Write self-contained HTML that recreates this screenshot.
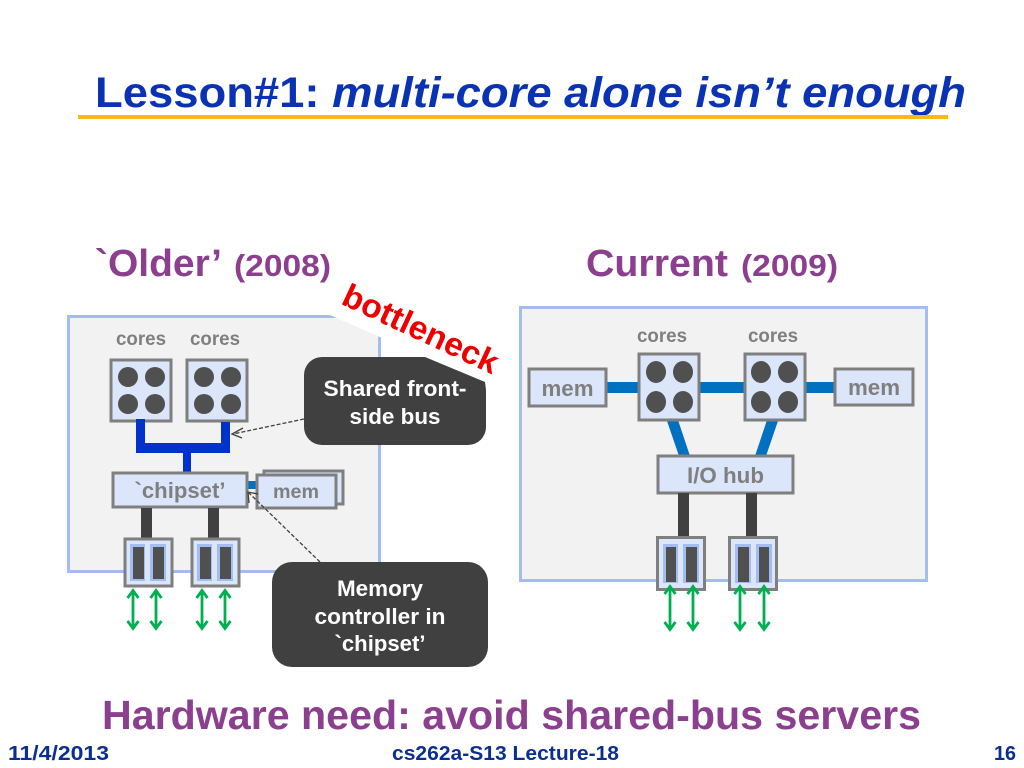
<!DOCTYPE html>
<html><head><meta charset="utf-8"><style>
html,body{margin:0;padding:0;background:#fff;width:1024px;height:768px;overflow:hidden}
svg{display:block}
text{font-family:"Liberation Sans",sans-serif;font-weight:bold}
.box{fill:#dce6fb;stroke:#7f7f7f;stroke-width:3}
.lbl{fill:#7f7f7f}
.c{fill:#505050}
.dk{fill:#404040}
.in{fill:#a4bdf0}
.g{stroke:#00b050;stroke-width:2.800;fill:none}
</style></head><body>
<svg width="1024" height="768" viewBox="0 0 1024 768" xmlns="http://www.w3.org/2000/svg">
<defs>
<g id="ar" class="g"><path d="M0 2V39M-5.500 9L0 1.500L5.500 9M-5.500 32L0 39.500L5.500 32"/></g>
<g id="ar2" class="g"><path d="M0 2V44M-5.500 9L0 1.500L5.500 9M-5.500 37L0 44.500L5.500 37"/></g>
</defs>
<text x="95" y="107" font-size="43" fill="#0a32b4" textLength="871" lengthAdjust="spacingAndGlyphs">Lesson#1: <tspan font-style="italic">multi-core alone isn’t enough</tspan></text>
<rect x="78" y="115" width="870" height="4" fill="#fbb917"/>
<g fill="#8c3f8f">
<text x="95" y="276" font-size="38" textLength="127" lengthAdjust="spacingAndGlyphs">`Older’</text>
<text x="234" y="276" font-size="31" textLength="97" lengthAdjust="spacingAndGlyphs">(2008)</text>
<text x="586" y="276" font-size="38" textLength="142" lengthAdjust="spacingAndGlyphs">Current</text>
<text x="741" y="276" font-size="31" textLength="97" lengthAdjust="spacingAndGlyphs">(2009)</text>
</g>

<!-- left panel -->
<rect x="68.500" y="316.500" width="311" height="255" fill="#f2f2f2" stroke="#a4bdf0" stroke-width="3"/>
<text x="116" y="345" font-size="19" class="lbl" textLength="50" lengthAdjust="spacingAndGlyphs">cores</text>
<text x="190" y="345" font-size="19" class="lbl" textLength="50" lengthAdjust="spacingAndGlyphs">cores</text>
<rect class="box" x="111" y="360" width="60" height="61"/>
<rect class="box" x="187" y="360" width="60" height="61"/>
<g class="c">
<circle cx="128" cy="377" r="10"/><circle cx="155" cy="377" r="10"/><circle cx="128" cy="404" r="10"/><circle cx="155" cy="404" r="10"/>
<circle cx="204" cy="377" r="10"/><circle cx="231" cy="377" r="10"/><circle cx="204" cy="404" r="10"/><circle cx="231" cy="404" r="10"/>
</g>
<g fill="#0033cc">
<rect x="136" y="419" width="9" height="34"/><rect x="221" y="422" width="9" height="31"/>
<rect x="136" y="443" width="94" height="10"/><rect x="183" y="453" width="8" height="19"/>
</g>
<rect x="247" y="481" width="10" height="8" fill="#0070c0"/>
<rect class="box" x="113" y="473" width="134" height="34"/>
<text x="180" y="498" font-size="22" class="lbl" text-anchor="middle" textLength="91" lengthAdjust="spacingAndGlyphs">`chipset’</text>
<rect class="box" x="264" y="471" width="79" height="33"/>
<rect class="box" x="257" y="475" width="79" height="33"/>
<text x="296" y="498" font-size="19" class="lbl" text-anchor="middle" textLength="46" lengthAdjust="spacingAndGlyphs">mem</text>
<g class="dk"><rect x="141" y="508" width="11" height="31"/><rect x="208" y="508" width="11" height="31"/></g>
<rect class="box" x="125" y="539" width="47" height="47"/>
<rect class="box" x="192" y="539" width="47" height="47"/>
<g class="in">
<rect x="130" y="544" width="15" height="37"/><rect x="150" y="544" width="16" height="37"/>
<rect x="197" y="544" width="15" height="37"/><rect x="217" y="544" width="16" height="37"/>
</g>
<g class="c">
<rect x="133" y="547" width="11" height="32"/><rect x="153" y="547" width="11" height="32"/>
<rect x="200" y="547" width="11" height="32"/><rect x="220" y="547" width="11" height="32"/>
</g>
<use href="#ar" x="133" y="589"/><use href="#ar" x="156" y="589"/><use href="#ar" x="202" y="589"/><use href="#ar" x="225" y="589"/>

<!-- right panel -->
<rect x="520.500" y="307.500" width="406" height="273" fill="#f2f2f2" stroke="#a4bdf0" stroke-width="3"/>
<text x="637" y="342" font-size="19" class="lbl" textLength="50" lengthAdjust="spacingAndGlyphs">cores</text>
<text x="748" y="342" font-size="19" class="lbl" textLength="50" lengthAdjust="spacingAndGlyphs">cores</text>
<g fill="#0070c0">
<rect x="606" y="382" width="34" height="11"/><rect x="698" y="382" width="48" height="11"/><rect x="804" y="382" width="32" height="11"/>
<polygon points="667,421 678,420 690,456 679,456"/><polygon points="767,420 778,421 766,456 755,456"/>
</g>
<rect class="box" x="529" y="369" width="77" height="37"/>
<rect class="box" x="835" y="369" width="78" height="36"/>
<text x="567.500" y="396" font-size="22" class="lbl" text-anchor="middle" textLength="52" lengthAdjust="spacingAndGlyphs">mem</text>
<text x="874" y="395" font-size="22" class="lbl" text-anchor="middle" textLength="52" lengthAdjust="spacingAndGlyphs">mem</text>
<rect class="box" x="639" y="354" width="60" height="66"/>
<rect class="box" x="745" y="354" width="60" height="66"/>
<g class="c">
<ellipse cx="656" cy="372" rx="10" ry="11"/><ellipse cx="683" cy="372" rx="10" ry="11"/><ellipse cx="656" cy="402" rx="10" ry="11"/><ellipse cx="683" cy="402" rx="10" ry="11"/>
<ellipse cx="761" cy="372" rx="10" ry="11"/><ellipse cx="788" cy="372" rx="10" ry="11"/><ellipse cx="761" cy="402" rx="10" ry="11"/><ellipse cx="788" cy="402" rx="10" ry="11"/>
</g>
<rect class="box" x="658" y="456" width="135" height="37"/>
<text x="725.500" y="483" font-size="22" class="lbl" text-anchor="middle" textLength="77" lengthAdjust="spacingAndGlyphs">I/O hub</text>
<g class="dk"><rect x="678" y="493" width="11" height="44"/><rect x="746" y="493" width="11" height="44"/></g>
<rect class="box" x="657.500" y="537.500" width="47" height="52"/>
<rect class="box" x="729.500" y="537.500" width="47" height="52"/>
<g class="in">
<rect x="663" y="544" width="15" height="39"/><rect x="683" y="544" width="16" height="39"/>
<rect x="735" y="544" width="16" height="39"/><rect x="756" y="544" width="16" height="39"/>
</g>
<g class="c">
<rect x="666" y="547" width="10" height="35"/><rect x="686" y="547" width="11" height="35"/>
<rect x="738" y="547" width="11" height="35"/><rect x="759" y="547" width="10" height="35"/>
</g>
<use href="#ar2" x="670" y="585"/><use href="#ar2" x="693" y="585"/><use href="#ar2" x="740" y="585"/><use href="#ar2" x="764" y="585"/>

<!-- callouts -->
<rect x="304" y="357" width="182" height="88" rx="18" fill="#404040"/>
<text x="395" y="396" font-size="22" fill="#fff" text-anchor="middle" textLength="143" lengthAdjust="spacingAndGlyphs">Shared front-</text>
<text x="395" y="424" font-size="22" fill="#fff" text-anchor="middle" textLength="91" lengthAdjust="spacingAndGlyphs">side bus</text>
<rect x="272" y="562" width="216" height="105" rx="20" fill="#404040"/>
<text x="380" y="596" font-size="22" fill="#fff" text-anchor="middle" textLength="86" lengthAdjust="spacingAndGlyphs">Memory</text>
<text x="380" y="624" font-size="22" fill="#fff" text-anchor="middle" textLength="131" lengthAdjust="spacingAndGlyphs">controller in</text>
<text x="380" y="651" font-size="22" fill="#fff" text-anchor="middle" textLength="91" lengthAdjust="spacingAndGlyphs">`chipset’</text>
<g fill="none" stroke="#404040" stroke-width="1.300">
<path d="M304 419L233 434" stroke-dasharray="4 2"/>
<path d="M320 562L249 493" stroke-dasharray="4 2"/>
<path d="M243 428L232 434L242 438"/>
<path d="M249 503L248 492L258 494"/>
</g>

<!-- bottleneck -->
<polygon points="330,315 345,280 510,350 486,390 485,382 425,357" fill="#fff"/>
<text x="0" y="0" font-size="33" fill="#ee0000" text-anchor="middle" textLength="168" lengthAdjust="spacingAndGlyphs" transform="translate(416,339) rotate(25)">bottleneck</text>

<text x="102" y="729" font-size="41" fill="#8c3f8f" textLength="819" lengthAdjust="spacingAndGlyphs">Hardware need: avoid shared-bus servers</text>
<g fill="#0a2f8f" font-size="20">
<text x="8" y="760" textLength="101" lengthAdjust="spacingAndGlyphs">11/4/2013</text>
<text x="392" y="760" textLength="227" lengthAdjust="spacingAndGlyphs">cs262a-S13 Lecture-18</text>
<text x="994" y="760" textLength="22" lengthAdjust="spacingAndGlyphs">16</text>
</g>
</svg>
</body></html>
